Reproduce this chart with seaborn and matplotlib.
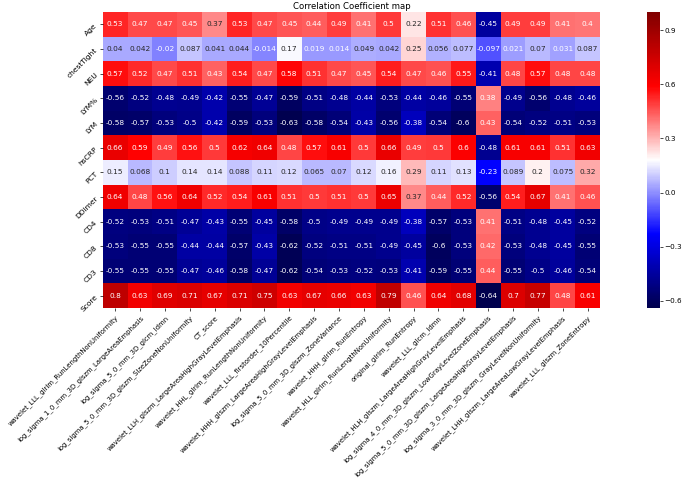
import numpy as np
import pandas as pd
import matplotlib
matplotlib.use('Agg')
import matplotlib.pyplot as plt
import seaborn as sns

# row labels (clinical variables)
rows = ['Age', 'chestTight', 'NEU', 'LYM%', 'LYM', 'hsCRP', 'PCT', 'DDimer',
        'CD4', 'CD8', 'CD3', 'Score']

# column labels (radiomic features)
cols = [
    'wavelet_LLL_glrlm_RunLengthNonUniformity',
    'log_sigma_1_0_mm_3D_glszm_LargeAreaEmphasis',
    'log_sigma_5_0_mm_3D_glcm_Idmn',
    'log_sigma_5_0_mm_3D_glszm_SizeZoneNonUniformity',
    'CT_score',
    'wavelet_LLH_glszm_LargeAreaHighGrayLevelEmphasis',
    'wavelet_HHL_glrlm_RunLengthNonUniformity',
    'wavelet_LLL_firstorder_10Percentile',
    'wavelet_HHH_glszm_LargeAreaHighGrayLevelEmphasis',
    'log_sigma_5_0_mm_3D_glszm_ZoneVariance',
    'wavelet_HHH_glrlm_RunEntropy',
    'wavelet_HLL_glrlm_RunLengthNonUniformity',
    'original_glrlm_RunEntropy',
    'wavelet_LLL_glcm_Idmn',
    'wavelet_HLH_glszm_LargeAreaHighGrayLevelEmphasis',
    'log_sigma_4_0_mm_3D_glszm_LowGrayLevelZoneEmphasis',
    'log_sigma_5_0_mm_3D_glszm_LargeAreaHighGrayLevelEmphasis',
    'log_sigma_3_0_mm_3D_glszm_GrayLevelNonUniformity',
    'wavelet_LHH_glszm_LargeAreaLowGrayLevelEmphasis',
    'wavelet_LLL_glszm_ZoneEntropy',
]

age = [0.53, 0.47, 0.47, 0.45, 0.37, 0.53, 0.47, 0.45, 0.44, 0.49, 0.41, 0.5, 0.22, 0.51, 0.46, -0.45, 0.49, 0.49, 0.41, 0.4]
chest_tight = [0.04, 0.042, -0.02, 0.087, 0.041, 0.044, -0.014, 0.17, 0.019, 0.014, 0.049, 0.042, 0.25, 0.056, 0.077, -0.097, 0.021, 0.07, 0.031, 0.087]
neu = [0.57, 0.52, 0.47, 0.51, 0.43, 0.54, 0.47, 0.58, 0.51, 0.47, 0.45, 0.54, 0.47, 0.46, 0.55, -0.41, 0.48, 0.57, 0.48, 0.48]
lym_pct = [-0.56, -0.52, -0.48, -0.49, -0.42, -0.55, -0.47, -0.59, -0.51, -0.48, -0.44, -0.53, -0.44, -0.46, -0.55, 0.38, -0.49, -0.56, -0.48, -0.46]
lym = [-0.58, -0.57, -0.53, -0.5, -0.42, -0.59, -0.53, -0.63, -0.58, -0.54, -0.43, -0.56, -0.38, -0.54, -0.6, 0.43, -0.54, -0.52, -0.51, -0.53]
hscrp = [0.66, 0.59, 0.49, 0.56, 0.5, 0.62, 0.64, 0.48, 0.57, 0.61, 0.5, 0.66, 0.49, 0.5, 0.6, -0.48, 0.61, 0.61, 0.51, 0.63]
pct = [0.15, 0.068, 0.1, 0.14, 0.14, 0.088, 0.11, 0.12, 0.065, 0.07, 0.12, 0.16, 0.29, 0.11, 0.13, -0.23, 0.089, 0.2, 0.075, 0.32]
ddimer = [0.64, 0.48, 0.56, 0.64, 0.52, 0.54, 0.61, 0.51, 0.5, 0.51, 0.5, 0.65, 0.37, 0.44, 0.52, -0.56, 0.54, 0.67, 0.41, 0.46]
cd4 = [-0.52, -0.53, -0.51, -0.47, -0.43, -0.55, -0.45, -0.58, -0.5, -0.49, -0.49, -0.49, -0.38, -0.57, -0.53, 0.41, -0.51, -0.48, -0.45, -0.52]
cd8 = [-0.53, -0.55, -0.55, -0.44, -0.44, -0.57, -0.43, -0.62, -0.52, -0.51, -0.51, -0.49, -0.45, -0.6, -0.53, 0.42, -0.53, -0.48, -0.45, -0.55]
cd3 = [-0.55, -0.55, -0.55, -0.47, -0.46, -0.58, -0.47, -0.62, -0.54, -0.53, -0.52, -0.53, -0.41, -0.59, -0.55, 0.44, -0.55, -0.5, -0.46, -0.54]
score = [0.8, 0.63, 0.69, 0.71, 0.67, 0.71, 0.75, 0.63, 0.67, 0.66, 0.63, 0.79, 0.46, 0.64, 0.68, -0.64, 0.7, 0.77, 0.48, 0.61]

cbar_ticks = [-0.6, -0.3, 0.0, 0.3, 0.6, 0.9]

df = pd.DataFrame([age, chest_tight, neu, lym_pct, lym, hscrp, pct, ddimer,
                   cd4, cd8, cd3, score], index=rows, columns=cols)

fig = plt.figure(figsize=(6.85, 4.82), dpi=100)
ax = fig.add_axes([0.150, 0.361, 0.726, 0.614])
cax = fig.add_axes([0.944, 0.361, 0.020, 0.614])

sns.heatmap(df, ax=ax, cbar_ax=cax, cmap='seismic', vmin=-0.64, vmax=1.0,
            annot=True, annot_kws={'fontsize': 5.3},
            cbar_kws={'ticks': cbar_ticks})

ax.set_title('Correlation Coefficient map', fontsize=6.1, pad=2)
ax.set_xticklabels(ax.get_xticklabels(), rotation=45, ha='right',
                   rotation_mode='anchor', fontsize=4.95)
ax.set_yticklabels(ax.get_yticklabels(), rotation=45, ha='right',
                   rotation_mode='anchor', fontsize=5.4)
ax.tick_params(length=2.5, width=0.5, pad=2)
cax.tick_params(labelsize=5.2, length=1.8, width=0.5, pad=1.2)

fig.savefig('out.png', dpi=100)
